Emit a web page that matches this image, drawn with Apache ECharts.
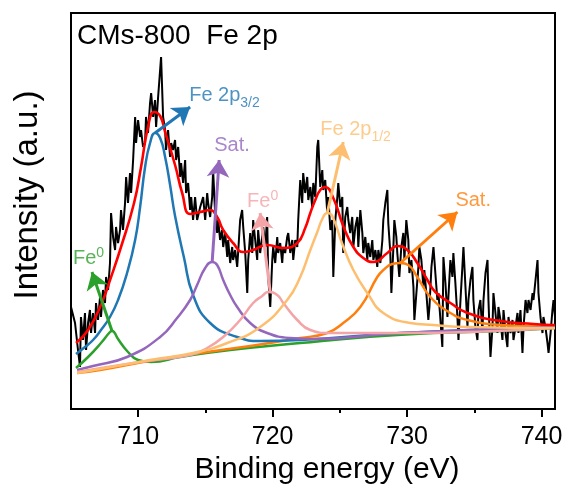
<!DOCTYPE html>
<html>
<head>
<meta charset="utf-8">
<script src="https://cdn.jsdelivr.net/npm/echarts@6/dist/echarts.min.js"></script>
<style>
  html, body { margin: 0; padding: 0; background: #fff; }
  #chart { width: 568px; height: 495px; }
</style>
</head>
<body>
<div id="chart"></div>
<script>
// measured spectrum: [binding energy (eV), intensity (a.u.)]
const raw = [
  [705.00,102],[705.30,86],[705.52,59],[705.67,42],[705.74,92],[705.89,69],[706.04,96],[706.12,59],
  [706.27,86],[706.41,99],[706.49,76],[706.64,96],[706.79,76],[706.86,106],[707.01,89],[707.16,112],
  [707.23,92],[707.38,119],[707.53,106],[707.61,132],[707.76,119],[707.90,146],[707.98,196],[708.13,172],
  [708.28,159],[708.35,182],[708.50,166],[708.65,179],[708.72,199],[708.87,179],[709.02,206],[709.10,232],
  [709.24,206],[709.39,236],[709.47,216],[709.62,249],[709.77,292],[709.84,266],[709.99,289],[710.14,272],
  [710.21,279],[710.36,262],[710.51,266],[710.58,292],[710.73,276],[710.88,306],[710.96,316],[711.11,292],
  [711.25,309],[711.33,282],[711.48,312],[711.70,352],[711.85,292],[712.00,279],[712.07,259],[712.22,279],
  [712.37,252],[712.45,266],[712.59,259],[712.74,269],[712.82,249],[712.97,262],[713.12,232],[713.19,246],
  [713.34,226],[713.49,249],[713.56,216],[713.71,226],[713.86,199],[713.94,212],[714.08,189],[714.23,212],
  [714.38,189],[714.61,202],[714.83,212],[714.98,189],[715.13,216],[715.20,206],[715.35,192],[715.50,212],
  [715.57,239],[715.72,196],[715.87,176],[715.95,189],[716.09,169],[716.24,179],[716.32,162],[716.47,176],
  [716.62,152],[716.69,169],[716.84,146],[716.99,162],[717.06,149],[717.21,159],[717.36,142],[717.43,156],
  [717.58,189],[717.73,199],[717.81,182],[717.96,156],[718.11,116],[718.18,149],[718.33,176],[718.48,156],
  [718.55,189],[718.70,169],[718.85,149],[718.92,179],[719.07,156],[719.22,172],[719.30,182],[719.45,162],
  [719.59,192],[719.67,132],[719.82,102],[719.97,149],[720.04,162],[720.19,146],[720.34,172],[720.41,156],
  [720.56,166],[720.71,146],[720.79,162],[720.93,156],[721.08,172],[721.16,176],[721.31,156],[721.46,169],
  [721.53,149],[721.68,169],[721.83,162],[721.90,189],[722.05,229],[722.20,206],[722.27,236],[722.42,216],
  [722.57,232],[722.65,209],[722.80,222],[722.94,202],[723.02,226],[723.17,212],[723.32,262],[723.39,269],
  [723.54,222],[723.69,239],[723.76,219],[723.91,229],[724.06,196],[724.14,212],[724.29,179],[724.43,189],
  [724.51,132],[724.66,189],[724.81,212],[724.88,226],[725.03,202],[725.18,212],[725.25,156],[725.40,192],
  [725.55,202],[725.63,189],[725.77,176],[725.92,192],[726.00,162],[726.15,182],[726.30,192],[726.37,162],
  [726.52,199],[726.67,176],[726.74,156],[726.89,172],[727.04,149],[727.11,166],[727.26,152],[727.41,169],
  [727.49,149],[727.64,159],[727.78,142],[727.86,159],[728.01,146],[728.16,169],[728.23,189],[728.38,206],
  [728.53,219],[728.60,186],[728.75,156],[728.83,116],[728.98,162],[729.05,189],[729.20,172],[729.27,156],
  [729.42,132],[729.57,162],[729.72,176],[729.80,149],[729.94,189],[730.09,169],[730.17,136],[730.32,149],
  [730.47,122],[730.54,89],[730.69,116],[730.84,142],[730.91,162],[731.06,149],[731.21,122],[731.28,139],
  [731.43,116],[731.58,89],[731.66,102],[731.81,142],[731.96,162],[732.03,149],[732.10,136],[732.25,109],
  [732.33,116],[732.48,89],[732.62,62],[732.70,152],[732.85,126],[733.00,92],[733.07,112],[733.22,149],
  [733.37,132],[733.44,156],[733.59,126],[733.74,92],[733.82,69],[733.97,109],[734.11,142],[734.19,162],
  [734.34,122],[734.49,82],[734.56,109],[734.71,129],[734.86,142],[734.93,109],[735.08,82],[735.23,69],
  [735.31,99],[735.45,109],[735.60,76],[735.68,109],[735.83,136],[735.98,149],[736.05,109],[736.20,52],
  [736.35,82],[736.42,116],[736.57,96],[736.72,76],[736.79,102],[736.94,89],[737.09,69],[737.17,99],
  [737.32,76],[737.46,62],[737.54,92],[737.69,76],[737.84,89],[737.91,69],[738.06,82],[738.21,96],
  [738.28,76],[738.43,99],[738.58,56],[738.66,82],[738.81,109],[738.95,96],[739.03,109],[739.18,99],
  [739.33,116],[739.40,109],[739.55,129],[739.70,149],[739.77,116],[739.92,92],[740.07,76],[740.14,92],
  [740.29,82],[740.44,66],[740.52,56],[740.67,76],[740.81,99],[740.89,109],[741.00,92]
];

// fitted components (each drawn on top of its background)
const fe0a = [
  [705.37,41],[706.27,52],[707.23,66],[707.90,77],[708.05,78],[708.20,77],[708.50,70],[709.24,57],
  [709.99,49],[710.96,47],[713.12,52],[716.84,59],[722.05,66],[727.04,72],[731.96,76],[736.94,78],[741.00,81]
];
const fe2p32 = [
  [705.37,55],[706.04,62],[706.64,69],[707.23,79],[707.90,92],[708.50,109],[709.17,136],[709.77,169],
  [710.14,202],[710.51,242],[710.88,266],[711.25,276],[711.63,271],[712.00,252],[712.37,224],[712.74,193],
  [713.41,151],[714.08,114],[715.35,86],[717.36,72],[719.07,68],[722.05,69],[729.50,76],[741.00,82]
];
const satA = [
  [705.45,39],[706.64,43],[709.17,52],[711.63,72],[712.89,91],[713.86,109],[714.38,124],[714.98,141],
  [715.50,147],[715.87,144],[716.32,129],[716.84,114],[717.36,102],[718.33,86],[719.59,76],[721.31,71],
  [723.10,70],[729.50,76],[741.00,82]
];
const fe0b = [
  [705.45,37],[710.14,47],[713.86,54],[715.13,61],[716.32,72],[717.58,89],[718.55,106],[719.22,113],
  [719.67,117],[720.34,114],[720.79,106],[721.83,89],[722.80,79],[724.20,76],[729.50,76],[741.00,81]
];
const fe2p12 = [
  [705.45,36],[710.88,49],[714.08,56],[716.62,66],[719.07,82],[721.08,109],[722.05,132],[722.80,159],
  [723.32,177],[723.69,190],[724.06,196],[724.43,193],[725.18,165],[726.00,139],[727.04,116],[728.23,96],
  [730.24,86],[731.96,84],[734.49,82],[741.00,81]
];
const satB = [
  [705.45,36],[707.16,39],[710.36,47],[714.61,56],[718.33,63],[722.05,71],[724.06,76],[725.25,86],
  [726.52,102],[727.78,132],[728.23,139],[728.90,145],[729.50,146],[730.09,144],[730.76,132],[731.73,112],
  [733.22,96],[734.49,89],[736.94,84],[739.18,83],[741.00,82]
];
const envelope = [
  [705.37,66],[706.27,79],[707.23,104],[707.98,132],[708.72,162],[709.69,206],[710.21,242],[710.73,282],
  [711.18,297],[711.63,293],[712.00,277],[712.74,244],[713.27,216],[713.86,195],[714.61,197],[715.35,199],
  [715.87,192],[716.32,179],[717.06,166],[717.81,157],[718.55,159],[719.59,164],[720.79,161],[721.83,166],
  [722.42,181],[722.80,196],[723.17,209],[723.54,219],[723.91,222],[724.51,211],[725.25,183],[726.00,162],
  [726.74,151],[727.49,147],[728.53,156],[729.27,163],[730.02,159],[730.76,146],[731.51,129],[732.10,117],
  [733.22,106],[734.49,96],[736.94,88],[739.40,85],[741.00,84]
];

// arrows: [from, to] in data coordinates
const arrows = [
  { color: '#2ca02c', from: [708.05,78],  to: [706.56,137] },
  { color: '#1f77b4', from: [711.25,276], to: [713.86,302] },
  { color: '#9467bd', from: [715.50,147], to: [716.02,249] },
  { color: '#f4a3a6', from: [719.82,117], to: [719.07,196] },
  { color: '#fdbf6f', from: [724.06,196], to: [725.25,267] },
  { color: '#ff7f0e', from: [729.50,146], to: [733.74,197] }
];

// peak labels: main text, optional sub/superscript, anchor (left, middle)
const peakLabels = [
  { text: 'Fe', sup: '0',   at: [705.15,151], color: '#2ca02c' },
  { text: 'Fe 2p', sub: '3/2', at: [713.79,306], color: '#1f77b4' },
  { text: 'Sat.',           at: [715.65,264], color: '#9467bd' },
  { text: 'Fe', sup: '0',   at: [718.10,208], color: '#f4a3a6' },
  { text: 'Fe 2p', sub: '1/2', at: [723.54,272], color: '#fdbf6f' },
  { text: 'Sat.',           at: [733.59,209], color: '#ff7f0e' }
];

const majorTicks = [710, 720, 730, 740];
const minorTicks = [715, 725, 735];

const FONT = '"Liberation Sans", Arial, sans-serif';

function fitLine(name, data, color, width) {
  return {
    name: name,
    type: 'line',
    data: data,
    smooth: 0.5,
    symbol: 'none',
    lineStyle: { color: color, width: width },
    silent: true,
    z: 3
  };
}

function labelItem(l) {
  let fmt, rich;
  if (l.sub) {
    fmt = '{m|' + l.text + '}{s|' + l.sub + '}';
    rich = {
      m: { fontSize: 20, lineHeight: 20, verticalAlign: 'top', color: l.color, fontFamily: FONT },
      s: { fontSize: 14, lineHeight: 36, color: l.color, fontFamily: FONT }
    };
  } else if (l.sup) {
    fmt = '{m|' + l.text + '}{p|' + l.sup + '}';
    rich = {
      m: { fontSize: 20, lineHeight: 24, color: l.color, fontFamily: FONT },
      p: { fontSize: 14, lineHeight: 14, verticalAlign: 'top', color: l.color, fontFamily: FONT }
    };
  } else {
    fmt = '{m|' + l.text + '}';
    rich = { m: { fontSize: 20, lineHeight: 20, color: l.color, fontFamily: FONT } };
  }
  return {
    value: l.at,
    label: { show: true, position: 'right', distance: 0, formatter: fmt, rich: rich }
  };
}

const chart = echarts.init(document.getElementById('chart'));

const series = [
  {
    name: 'raw',
    type: 'line',
    data: raw,
    symbol: 'none',
    lineStyle: { color: '#000', width: 2 },
    silent: true,
    z: 2
  },
  fitLine('Fe0 (a)', fe0a, '#2ca02c', 2.5),
  fitLine('Sat. (b)', satB, '#ff7f0e', 2.5),
  fitLine('Fe 2p3/2', fe2p32, '#1f77b4', 2.5),
  fitLine('Sat. (a)', satA, '#9467bd', 2.5),
  fitLine('Fe0 (b)', fe0b, '#f4a3a6', 2.5),
  fitLine('Fe 2p1/2', fe2p12, '#fdbf6f', 2.5),
  fitLine('envelope', envelope, '#ff0000', 2.6)
];

// one arrow series per annotation, arrowhead coloured like its line
arrows.forEach((a, i) => {
  series.push({
    name: 'arrow' + i,
    type: 'line',
    data: [],
    silent: true,
    z: 4,
    color: a.color,
    markLine: {
      silent: true,
      animation: false,
      symbol: ['none', 'arrow'],
      symbolSize: 17,
      label: { show: false },
      itemStyle: { color: a.color },
      lineStyle: { color: a.color, width: 3, type: 'solid' },
      emphasis: { disabled: true },
      data: [[
        { coord: a.from },
        { coord: a.to, symbol: 'arrow', symbolSize: 17 }
      ]]
    }
  });
});

series.push({
  name: 'labels',
  type: 'scatter',
  symbolSize: 0,
  silent: true,
  z: 5,
  data: peakLabels.map(labelItem)
});

chart.setOption({
  animation: false,
  textStyle: { fontFamily: FONT },
  title: {
    text: 'CMs-800  Fe 2p',
    left: 72,
    top: 17,
    textStyle: { fontSize: 28, fontWeight: 'normal', color: '#000', fontFamily: FONT }
  },
  grid: {
    left: 71, right: 13, top: 13, bottom: 86,
    show: true, borderColor: '#000', borderWidth: 2, backgroundColor: 'transparent'
  },
  xAxis: [
    {
      type: 'value',
      min: 705, max: 741, interval: 5,
      position: 'bottom',
      name: 'Binding energy (eV)',
      nameLocation: 'middle',
      nameGap: 40,
      nameTextStyle: { fontSize: 30, color: '#000', padding: [0, 0, 0, 28], fontFamily: FONT },
      axisLine: { show: true, lineStyle: { color: '#000', width: 2 } },
      axisTick: { show: true, inside: false, length: 8, customValues: majorTicks, lineStyle: { color: '#000', width: 2 } },
      axisLabel: { show: true, customValues: majorTicks, fontSize: 25, color: '#000', margin: 16, fontFamily: FONT },
      splitLine: { show: false }
    },
    {
      type: 'value',
      min: 705, max: 741, interval: 5,
      position: 'bottom',
      axisLine: { show: false },
      axisTick: { show: true, inside: false, length: 4, customValues: minorTicks, lineStyle: { color: '#000', width: 2 } },
      axisLabel: { show: false },
      splitLine: { show: false }
    }
  ],
  yAxis: {
    type: 'value',
    min: 0, max: 396,
    name: 'Intensity (a.u.)',
    nameLocation: 'middle',
    nameGap: 27,
    nameTextStyle: { fontSize: 33, color: '#000', padding: [0, 0, 0, 32], fontFamily: FONT },
    axisLine: { show: false },
    axisTick: { show: false },
    axisLabel: { show: false },
    splitLine: { show: false }
  },
  series: series
});
</script>
</body>
</html>
